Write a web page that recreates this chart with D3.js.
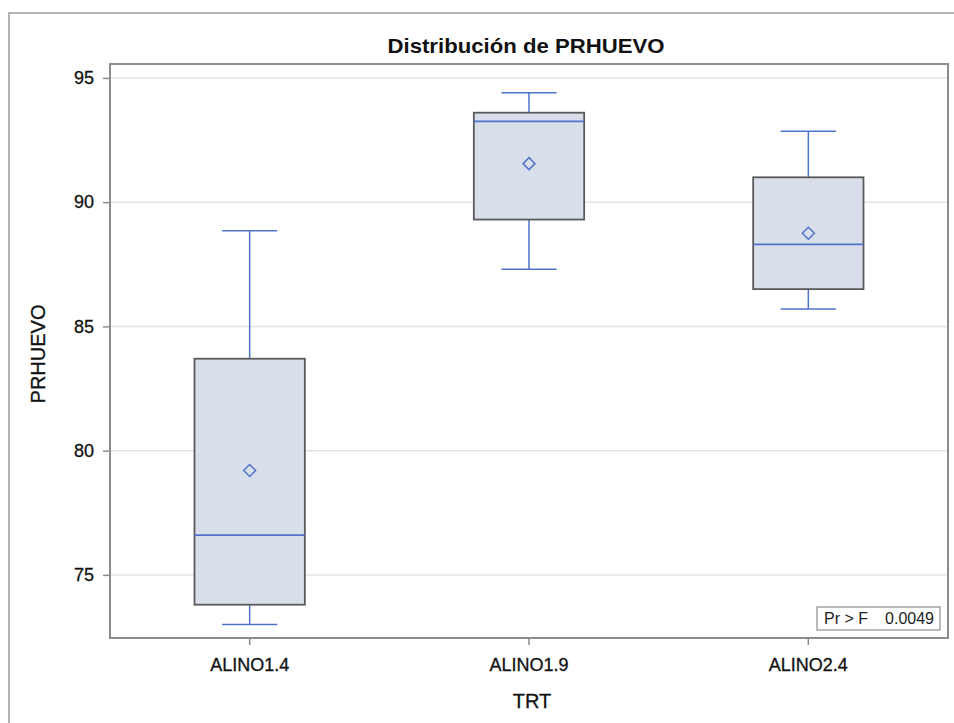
<!DOCTYPE html>
<html>
<head>
<meta charset="utf-8">
<script src="https://cdn.jsdelivr.net/npm/d3@7"></script>
<style>
  body { margin: 0; background: #fff; }
  svg { display: block; font-family: "Liberation Sans", Arial, sans-serif; }
</style>
</head>
<body>
<svg id="chart" width="954" height="723"></svg>
<script>
// Treatment groups and their box-plot summaries (PRHUEVO)
const categories = ["ALINO1.4", "ALINO1.9", "ALINO2.4"];
const whiskerLow = [73.0, 87.3, 85.7];
const q1 = [73.8, 89.3, 86.5];
const median = [76.6, 93.25, 88.3];
const q3 = [83.7, 93.6, 91.0];
const whiskerHigh = [88.85, 94.4, 92.85];
const mean = [79.2, 91.55, 88.75];
const yTicks = [75, 80, 85, 90, 95];
const pValueText = ["Pr > F", "0.0049"];

const svg = d3.select("#chart");
const W = 954, H = 723;
const plot = { left: 110, top: 64, right: 948, bottom: 638 };
const ink = "#111";

// Outer graph frame
svg.append("path")
  .attr("d", `M9,${H} L9,13 L${W},13`)
  .attr("fill", "none").attr("stroke", "#b4b4b4").attr("stroke-width", 2);

const x = d3.scaleBand().domain(categories).range([plot.left, plot.right]).padding(0);
const y = d3.scaleLinear().domain([72.46, 95.56]).range([plot.bottom, plot.top]);

// Grid lines
svg.append("g").selectAll("line").data(yTicks).join("line")
  .attr("x1", plot.left).attr("x2", plot.right)
  .attr("y1", d => y(d)).attr("y2", d => y(d))
  .attr("stroke", "#e4e4e4").attr("stroke-width", 1.5);

// Boxes
const boxW = x.bandwidth() * 0.395;
const capW = boxW * 0.5;
const blue = "#4f73c9";
const g = svg.append("g");
categories.forEach((c, i) => {
  const cx = x(c) + x.bandwidth() / 2;
  // whiskers
  g.append("line").attr("x1", cx).attr("x2", cx).attr("y1", y(q3[i])).attr("y2", y(whiskerHigh[i]))
    .attr("stroke", blue).attr("stroke-width", 1.5);
  g.append("line").attr("x1", cx).attr("x2", cx).attr("y1", y(q1[i])).attr("y2", y(whiskerLow[i]))
    .attr("stroke", blue).attr("stroke-width", 1.5);
  g.append("line").attr("x1", cx - capW / 2).attr("x2", cx + capW / 2)
    .attr("y1", y(whiskerHigh[i])).attr("y2", y(whiskerHigh[i]))
    .attr("stroke", blue).attr("stroke-width", 1.5);
  g.append("line").attr("x1", cx - capW / 2).attr("x2", cx + capW / 2)
    .attr("y1", y(whiskerLow[i])).attr("y2", y(whiskerLow[i]))
    .attr("stroke", blue).attr("stroke-width", 1.5);
  // box
  g.append("rect").attr("x", cx - boxW / 2).attr("width", boxW)
    .attr("y", y(q3[i])).attr("height", y(q1[i]) - y(q3[i]))
    .attr("fill", "#d9dfea").attr("stroke", "#5a5a5a").attr("stroke-width", 1.8);
  // median
  g.append("line").attr("x1", cx - boxW / 2).attr("x2", cx + boxW / 2)
    .attr("y1", y(median[i])).attr("y2", y(median[i]))
    .attr("stroke", blue).attr("stroke-width", 1.8);
  // mean marker (diamond)
  const s = 6;
  const my = y(mean[i]);
  g.append("path")
    .attr("d", `M${cx},${my - s} L${cx + s},${my} L${cx},${my + s} L${cx - s},${my} Z`)
    .attr("fill", "none").attr("stroke", blue).attr("stroke-width", 1.5);
});

// Plot frame
svg.append("rect")
  .attr("x", plot.left).attr("y", plot.top)
  .attr("width", plot.right - plot.left).attr("height", plot.bottom - plot.top)
  .attr("fill", "none").attr("stroke", "#8c8c8c").attr("stroke-width", 2);

// Y axis
const yAxis = svg.append("g").attr("transform", `translate(${plot.left},0)`)
  .call(d3.axisLeft(y).tickValues(yTicks).tickSize(7).tickPadding(9));
yAxis.select(".domain").remove();
yAxis.selectAll(".tick line").attr("stroke", "#8c8c8c").attr("stroke-width", 1.5);
yAxis.selectAll(".tick text").attr("font-size", 18).attr("fill", ink)
  .attr("stroke", ink).attr("stroke-width", 0.3)
  .attr("font-family", "Liberation Sans, Arial, sans-serif");

// X axis
const xAxis = svg.append("g").attr("transform", `translate(0,${plot.bottom})`)
  .call(d3.axisBottom(x).tickSize(7).tickPadding(13));
xAxis.select(".domain").remove();
xAxis.selectAll(".tick line").attr("stroke", "#8c8c8c").attr("stroke-width", 1.5);
xAxis.selectAll(".tick text").attr("font-size", 18).attr("fill", ink)
  .attr("stroke", ink).attr("stroke-width", 0.3)
  .attr("font-family", "Liberation Sans, Arial, sans-serif");

// Title and axis labels
svg.append("text").attr("x", 526).attr("y", 53).attr("text-anchor", "middle")
  .attr("font-size", 21).attr("font-weight", "bold").attr("fill", ink)
  .attr("textLength", 277).attr("lengthAdjust", "spacingAndGlyphs")
  .text("Distribución de PRHUEVO");
svg.append("text").attr("x", 532).attr("y", 708).attr("text-anchor", "middle")
  .attr("font-size", 20).attr("fill", ink).attr("stroke", ink).attr("stroke-width", 0.3)
  .text("TRT");
svg.append("text").attr("transform", `translate(45,354) rotate(-90)`)
  .attr("text-anchor", "middle").attr("font-size", 20).attr("fill", ink)
  .attr("stroke", ink).attr("stroke-width", 0.3)
  .text("PRHUEVO");

// Inset statistic box
const inset = svg.append("g");
inset.append("rect").attr("x", 817).attr("y", 607).attr("width", 123).attr("height", 23)
  .attr("fill", "#fff").attr("stroke", "#8c8c8c").attr("stroke-width", 1.2);
inset.append("text").attr("x", 824).attr("y", 624).attr("font-size", 16).attr("fill", "#222")
  .text(pValueText[0]);
inset.append("text").attr("x", 934).attr("y", 624).attr("text-anchor", "end")
  .attr("font-size", 16).attr("fill", "#222").text(pValueText[1]);
</script>
</body>
</html>
